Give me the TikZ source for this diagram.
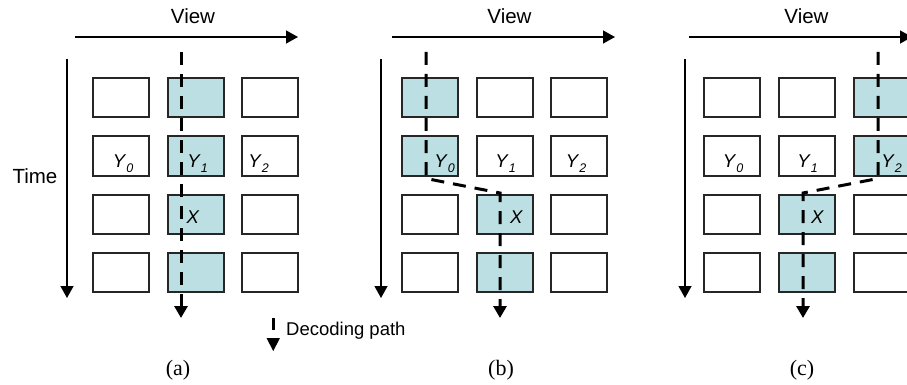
\documentclass[tikz,border=0pt]{standalone}
\usepackage{fontspec}
\setmainfont{Liberation Sans}
\newfontfamily\capfont{Liberation Serif}
\usetikzlibrary{arrows.meta}
\definecolor{cellblue}{HTML}{BBDFE2}
\definecolor{cellline}{HTML}{262626}
\newcommand{\ylab}[1]{\textit{Y}\raisebox{-0.28em}{\fontsize{12.5}{12}\selectfont\textit{#1}}}
\begin{document}
\begin{tikzpicture}[x=1pt,y=-1pt,
  cell/.style={draw=cellline, line width=2pt, fill=white, minimum width=56pt, minimum height=39pt, inner sep=0pt},
  hot/.style={cell, fill=cellblue},
  axis/.style={line width=1.3pt, -{Triangle[width=13pt,length=12pt]}},
  decpath/.style={line width=3pt, dash pattern=on 13pt off 9pt, -{Triangle[width=13pt,length=12pt]}},
  bigtxt/.style={font=\fontsize{20.5}{24}\selectfont, inner sep=0pt, anchor=base},
  celltxt/.style={font=\fontsize{18.5}{20}\selectfont, inner sep=0pt, anchor=base},
  captxt/.style={font=\capfont\fontsize{22}{26}\selectfont, inner sep=0pt, anchor=base}]
\useasboundingbox (0,0) rectangle (907,385);
\clip (0,0) rectangle (907,385);

% ---------- panel (a)
\foreach \r in {1,...,4}{
  \pgfmathsetmacro{\yy}{98+58*(\r-1)}
  \node[cell] (a1\r) at (121,\yy) {};
  \node[hot]  (a2\r) at (196,\yy) {};
  \node[cell] (a3\r) at (270,\yy) {};
}
% ---------- panel (b)
\foreach \r in {1,2}{
  \pgfmathsetmacro{\yy}{98+58*(\r-1)}
  \node[hot]  (b1\r) at (430,\yy) {};
  \node[cell] (b2\r) at (505,\yy) {};
  \node[cell] (b3\r) at (579,\yy) {};
}
\foreach \r in {3,4}{
  \pgfmathsetmacro{\yy}{98+58*(\r-1)}
  \node[cell] (b1\r) at (430,\yy) {};
  \node[hot]  (b2\r) at (505,\yy) {};
  \node[cell] (b3\r) at (579,\yy) {};
}
% ---------- panel (c)
\foreach \r in {1,2}{
  \pgfmathsetmacro{\yy}{98+58*(\r-1)}
  \node[cell] (c1\r) at (732,\yy) {};
  \node[cell] (c2\r) at (807,\yy) {};
  \node[hot]  (c3\r) at (882,\yy) {};
}
\foreach \r in {3,4}{
  \pgfmathsetmacro{\yy}{98+58*(\r-1)}
  \node[cell] (c1\r) at (732,\yy) {};
  \node[hot]  (c2\r) at (807,\yy) {};
  \node[cell] (c3\r) at (882,\yy) {};
}

% ---------- axes
\coordinate (avs) at (75,37);  \coordinate (ave) at (298,37);
\coordinate (ats) at (67,59);  \coordinate (ate) at (67,298);
\coordinate (bvs) at (392,37); \coordinate (bve) at (615,37);
\coordinate (bts) at (381,59); \coordinate (bte) at (381,298);
\coordinate (cvs) at (689,37); \coordinate (cve) at (912,37);
\coordinate (cts) at (685,59); \coordinate (cte) at (685,298);
\draw[axis] (avs) -- (ave);
\draw[axis] (ats) -- (ate);
\draw[axis] (bvs) -- (bve);
\draw[axis] (bts) -- (bte);
\draw[axis] (cvs) -- (cve);
\draw[axis] (cts) -- (cte);

\node[bigtxt] (aview) at (193,24) {View};
\node[bigtxt] (bview) at (509.5,24) {View};
\node[bigtxt] (cview) at (806.5,24) {View};
\node[bigtxt] (time) at (35,183) {Time};

% ---------- decoding paths
\coordinate (ap1) at (181,52);  \coordinate (ap2) at (181,318);
\draw[decpath] (ap1) -- (ap2);
\coordinate (bp1) at (426,52);  \coordinate (bp2) at (426,178.5);
\coordinate (bp3) at (500,193); \coordinate (bp4) at (500,318);
\draw[decpath] (bp1) -- (bp2) -- (bp3) -- (bp4);
\coordinate (cp1) at (878,52);  \coordinate (cp2) at (878,178.5);
\coordinate (cp3) at (803,193); \coordinate (cp4) at (803,318);
\draw[decpath] (cp1) -- (cp2) -- (cp3) -- (cp4);

% ---------- cell labels
\node[celltxt] (ay0) at (123,167) {\ylab{0}};
\node[celltxt] (ay1) at (197.5,167) {\ylab{1}};
\node[celltxt] (ay2) at (258.5,167) {\ylab{2}};
\node[celltxt] (ax)  at (193,223.5) {\textit{X}};
\node[celltxt] (by0) at (444.5,167) {\ylab{0}};
\node[celltxt] (by1) at (505.5,167) {\ylab{1}};
\node[celltxt] (by2) at (576,167) {\ylab{2}};
\node[celltxt] (bx)  at (516.5,223.5) {\textit{X}};
\node[celltxt] (cy0) at (733,167) {\ylab{0}};
\node[celltxt] (cy1) at (807.5,167) {\ylab{1}};
\node[celltxt] (cy2) at (891.5,167) {\ylab{2}};
\node[celltxt] (cx)  at (817.5,223.5) {\textit{X}};

% ---------- legend
\draw[line width=3pt] (273,318) -- (273,330);
\fill (266.5,338) -- (280,338) -- (273.25,351) -- cycle;
\node[font=\fontsize{18.5}{22}\selectfont, inner sep=0pt, anchor=base west] (legtxt) at (286,335) {Decoding path};

% ---------- captions
\node[captxt] (capa) at (178,375) {(a)};
\node[captxt] (capb) at (501,375) {(b)};
\node[captxt] (capc) at (802,375) {(c)};
\end{tikzpicture}
\end{document}
